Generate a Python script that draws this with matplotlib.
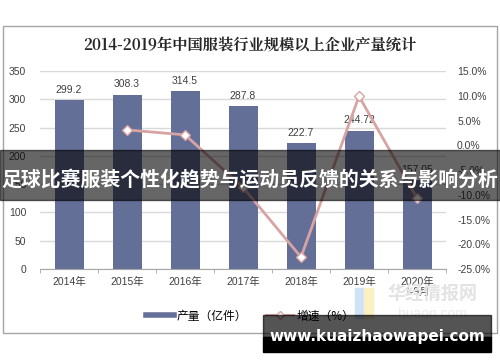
import matplotlib
matplotlib.use('Agg')
import matplotlib.pyplot as plt
from matplotlib.patches import Rectangle
from matplotlib.lines import Line2D
import numpy as np

plt.rcParams['font.family'] = ['Liberation Sans', 'Noto Sans CJK SC']

years = ['2014年', '2015年', '2016年', '2017年', '2018年', '2019年', '2020年\n1-9月']
output = [299.2, 308.3, 314.5, 287.8, 222.7, 244.72, 157.05]
output_labels = ['299.2', '308.3', '314.5', '287.8', '222.7', '244.72', '157.05']
growth = [np.nan, 3.1, 2.1, -8.5, -22.6, 9.9, -10.7]

bar_color = '#646f98'
line_color = '#d8a3a3'

fig = plt.figure(figsize=(5, 3.62), dpi=100)

# outer frame of the chart
fig.patches.append(Rectangle((3 / 500, 1 - 333 / 362), 494 / 500, 307 / 362,
                             transform=fig.transFigure, fill=False,
                             edgecolor='#a6a6a6', lw=1))

fig.text(0.5, 1 - 45 / 362, '2014-2019年中国服装行业规模以上企业产量统计',
         ha='center', va='center', fontsize=11, fontweight='bold',
         family=['Noto Serif CJK SC', 'Noto Sans CJK SC'], color='#262626')

ax1 = fig.add_axes([0.08, 1 - 269 / 362, 0.812, 198 / 362])
x = np.arange(len(years))
ax1.bar(x, output, width=0.5, color=bar_color, zorder=2)
for xi, v, lab in zip(x, output, output_labels):
    ax1.text(xi, v + 9, lab, ha='center', va='bottom', fontsize=7.5, color='#404040')

ax1.set_ylim(0, 350)
ax1.set_yticks(range(0, 351, 50))
ax1.set_xlim(-0.5, len(years) - 0.5)
ax1.set_xticks(x)
ax1.set_xticklabels(years, fontsize=7.5, color='#404040', linespacing=1.0)
ax1.set_xticks(np.arange(-0.5, len(years), 1), minor=True)
ax1.tick_params(axis='x', which='major', length=0, pad=6)
ax1.tick_params(axis='x', which='minor', length=3, color='#a6a6a6')
ax1.tick_params(axis='y', length=0, labelsize=7.5, labelcolor='#404040', pad=10)
ax1.grid(axis='y', color='#d9d9d9', lw=1, zorder=0)
for s in ['top', 'left', 'right']:
    ax1.spines[s].set_visible(False)
ax1.spines['bottom'].set_color('#a6a6a6')

ax2 = ax1.twinx()
ax2.plot(x, growth, color=line_color, lw=2, marker='D', ms=5,
         markerfacecolor='white', markeredgecolor=line_color, zorder=3)
ax2.set_ylim(-25, 15)
ax2.set_yticks(range(-25, 16, 5))
ax2.set_yticklabels([f'{v:.1f}%' for v in range(-25, 16, 5)])
ax2.tick_params(axis='y', length=0, labelsize=7.5, labelcolor='#404040', pad=8)
for s in ax2.spines.values():
    s.set_visible(False)

handles = [Line2D([], [], color=bar_color, lw=4),
           Line2D([], [], color=line_color, lw=1.5, marker='D', ms=4,
                  markerfacecolor='white', markeredgecolor=line_color)]
fig.legend(handles, ['产量（亿件）', '增速（%）'], loc='center',
           bbox_to_anchor=(0.5, 1 - 316 / 362), ncol=2, frameon=False,
           handlelength=2.4, columnspacing=1.6, handletextpad=0.2,
           prop={'family': ['Noto Sans CJK SC'], 'size': 8.5})

# faint watermark
fig.patches.append(Rectangle((0.71, 1 - 318 / 362), 0.018, 30 / 362,
                             transform=fig.transFigure, color='#cfe3f7'))
fig.patches.append(Rectangle((0.728, 1 - 318 / 362), 0.018, 30 / 362,
                             transform=fig.transFigure, color='#fbf0c2'))
fig.text(0.865, 1 - 294 / 362, '华经情报网', ha='center', va='center',
         fontsize=13, color='#e3e3e3', fontweight='bold',
         family=['Noto Sans CJK SC'])
fig.text(0.865, 1 - 314 / 362, 'huaon.com', ha='center', va='center',
         fontsize=10, color='#ececec')

# overlay banner
fig.patches.append(Rectangle((0, 1 - 200 / 362), 1, 50 / 362,
                             transform=fig.transFigure, color='black',
                             alpha=0.6, zorder=10))
fig.text(0.5, 1 - 180 / 362, '足球比赛服装个性化趋势与运动员反馈的关系与影响分析',
         ha='center', va='center', fontsize=14.3, fontweight='bold',
         color='white', family=['Noto Sans CJK SC'], zorder=11)

# bottom url box
fig.patches.append(Rectangle((263 / 500, 1 - 337 / 362), 228 / 500, 22 / 362,
                             transform=fig.transFigure, color='black',
                             alpha=0.67, zorder=10))
fig.patches.append(Rectangle((263 / 500, 1 - 352 / 362), 228 / 500, 15 / 362,
                             transform=fig.transFigure, color='black',
                             zorder=10))
fig.text(377 / 500, 1 - 336 / 362, 'www.kuaizhaowapei.com', ha='center',
         va='center', fontsize=11, fontweight='bold', color='white',
         family=['DejaVu Sans'], zorder=11)

fig.savefig('out.png', dpi=100)
